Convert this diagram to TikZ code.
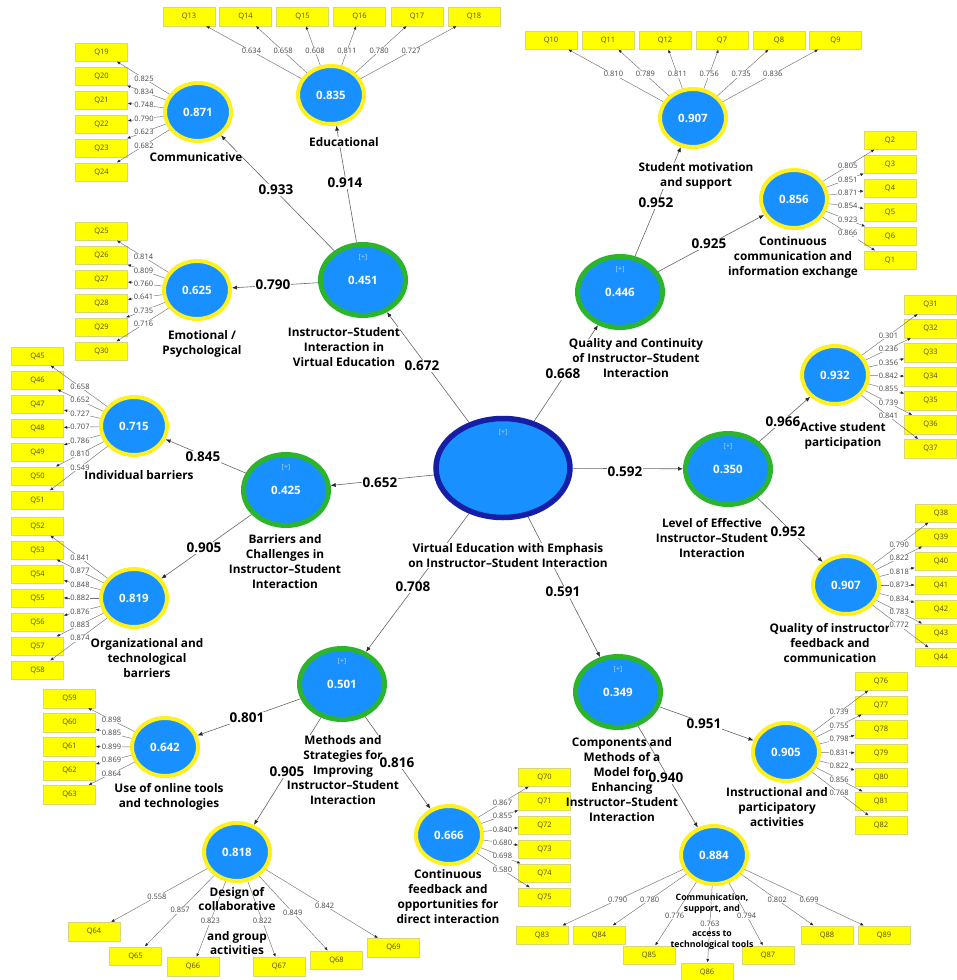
\documentclass[tikz,border=0pt]{standalone}
\usepackage{fontspec}
\setmainfont{Open Sans}
\usetikzlibrary{shapes.geometric,arrows.meta,calc}
\definecolor{cblue}{RGB}{24,144,255}
\definecolor{cylw}{RGB}{255,240,30}
\definecolor{cgrn}{RGB}{44,180,44}
\definecolor{cnavy}{RGB}{22,30,165}
\definecolor{qyel}{RGB}{255,255,0}
\definecolor{qbrd}{RGB}{215,215,120}
\definecolor{qtxt}{RGB}{85,75,25}
\definecolor{plusc}{RGB}{175,212,255}
\tikzset{
  fo/.style={ellipse, draw=cylw, line width=4pt, fill=cblue, minimum width=66pt, minimum height=58pt, inner sep=0pt, text=white, font=\fontsize{11.5}{13}\selectfont\bfseries},
  so/.style={ellipse, draw=cgrn, line width=5pt, fill=cblue, minimum width=85pt, minimum height=71pt, inner sep=0pt, text=white, font=\fontsize{11.5}{13}\selectfont\bfseries, label={[plusl,yshift=22pt]center:[+]}},
  ctr/.style={ellipse, draw=cnavy, line width=5.5pt, fill=cblue, minimum width=134pt, minimum height=99pt, inner sep=0pt, label={[plusl,yshift=35pt]center:[+]}},
  plusl/.style={text=plusc, font=\fontsize{7}{8}\selectfont, inner sep=0pt},
  qb/.style={draw=qbrd, line width=0.5pt, fill=qyel, minimum width=52pt, minimum height=18.5pt, inner sep=0pt, text=qtxt, font=\fontsize{7.5}{9}\selectfont},
  ld/.style={draw=black!55, line width=0.45pt, -{Latex[length=3.5pt,width=2.8pt,color=black!85]}},
  sp/.style={draw=black!60, line width=0.6pt, -{Latex[length=5pt,width=4pt,color=black!85]}},
  lbl/.style={fill=white, inner sep=0.5pt, text=black!72, font=\fontsize{7.5}{9}\selectfont},
  coef/.style={fill=white, inner sep=1pt, text=black, font=\fontsize{13.5}{15}\selectfont\bfseries},
  clab/.style={align=center, inner sep=0pt, fill=white, text=black, font=\fontsize{11.8}{15}\selectfont\bfseries},
  clabn/.style={clab, fill=none},
}
\begin{document}
\begin{tikzpicture}[x=1pt,y=-1pt]
\fill[white] (0,0) rectangle (956,980);
\useasboundingbox (0,0) rectangle (956,980);

% central and second-order constructs
\node[ctr] (ve) at (503,468) {};
\node[so] (isv) at (363,280) {0.451};
\node[so] (qc) at (620,292) {0.446};
\node[so] (bc) at (286,490) {0.425};
\node[so] (le) at (728,469) {0.350};
\node[so] (ms) at (342,684) {0.501};
\node[so] (cm) at (618,692) {0.349};

% first-order constructs
\node[fo] (edu) at (331,95) {0.835};
\node[fo] (com) at (198,112) {0.871};
\node[fo] (emo) at (197,290) {0.625};
\node[fo] (ind) at (134,426) {0.715};
\node[fo] (org) at (134,598) {0.819};
\node[fo] (onl) at (165,747) {0.642};
\node[fo] (des) at (237,852) {0.818};
\node[fo] (cfb) at (449,835) {0.666};
\node[fo] (cst) at (714,855) {0.884};
\node[fo] (ins) at (786,752) {0.905};
\node[fo] (qfc) at (846,585) {0.907};
\node[fo] (act) at (835,375) {0.932};
\node[fo] (cci) at (794,199) {0.856};
\node[fo] (smo) at (693,118) {0.907};

% indicator boxes
\foreach \n/\x/\y in {13/189/16.5,14/245.5/16.5,15/302.5/16.5,16/359.5/16.5,17/417/16.5,18/474/16.5,
  19/101.5/52,20/101.5/76,21/101.5/100,22/101.5/124,23/101.5/148,24/101.5/172,
  25/101.5/231,26/101.5/255,27/101.5/279,28/101.5/303,29/101.5/327,30/101.5/351,
  45/37.5/356,46/37.5/380,47/37.5/404,48/37.5/428,49/37.5/452,50/37.5/476,51/37.5/500,
  52/37.5/526,53/37.5/550,54/37.5/574,55/37.5/598,56/37.5/622,57/37.5/646,58/37.5/670,
  59/69.5/698.5,60/69.5/722.5,61/69.5/746.5,62/69.5/770.5,63/69.5/794.5,
  64/94/931.5,65/135.5/956,66/193/966.5,67/279/966.5,68/336.5/960,69/393.5/947.5,
  70/544.5/777,71/544.5/801,72/544.5/825,73/544.5/849,74/544.5/873,75/544.5/897,
  83/542/935,84/599/935,85/649/955,86/707/972,87/768/955,88/827/935,89/884/935,
  76/881/681,77/881/705,78/881/729,79/881/753,80/881/777,81/881/801,82/881/825,
  38/941/513,39/941/537,40/941/561,41/941/585,42/941/609,43/941/633,44/941/657,
  31/930.5/304.5,32/930.5/328.5,33/930.5/352.5,34/930.5/376.5,35/930.5/400.5,36/930.5/424.5,37/930.5/448.5,
  2/890/140,3/890/164,4/890/188,5/890/212,6/890/236,1/890/260,
  10/551/40,11/608/40,12/665/40,7/722/40,8/779/40,9/835.5/40}
  {\node[qb] (q\n) at (\x,\y) {Q\n};}

\def\loadlist{edu/13/0.634,edu/14/0.658,edu/15/0.608,edu/16/0.811,edu/17/0.780,edu/18/0.727,
  com/19/0.825,com/20/0.834,com/21/0.748,com/22/0.790,com/23/0.623,com/24/0.682,
  emo/25/0.814,emo/26/0.809,emo/27/0.760,emo/28/0.641,emo/29/0.735,emo/30/0.716,
  ind/45/0.658,ind/46/0.652,ind/47/0.727,ind/48/0.707,ind/49/0.786,ind/50/0.810,ind/51/0.549,
  org/52/0.841,org/53/0.877,org/54/0.848,org/55/0.882,org/56/0.876,org/57/0.883,org/58/0.874,
  onl/59/0.898,onl/60/0.885,onl/61/0.899,onl/62/0.869,onl/63/0.864,
  des/64/0.558,des/65/0.857,des/68/0.849,des/69/0.842,
  cfb/70/0.867,cfb/71/0.855,cfb/72/0.840,cfb/73/0.680,cfb/74/0.698,cfb/75/0.580,
  cst/83/0.790,cst/84/0.780,cst/88/0.802,cst/89/0.699,
  ins/76/0.739,ins/77/0.755,ins/78/0.798,ins/79/0.831,ins/80/0.822,ins/81/0.856,ins/82/0.768,
  qfc/38/0.790,qfc/39/0.822,qfc/40/0.818,qfc/41/0.873,qfc/42/0.834,qfc/43/0.783,qfc/44/0.772,
  act/31/0.301,act/32/0.236,act/33/0.356,act/34/0.842,act/35/0.855,act/36/0.739,act/37/0.841,
  cci/2/0.805,cci/3/0.851,cci/4/0.871,cci/5/0.854,cci/6/0.923,cci/1/0.866,
  smo/10/0.810,smo/11/0.789,smo/12/0.811,smo/7/0.756,smo/8/0.735,smo/9/0.836}
\def\loadlistb{des/66/0.823,des/67/0.822,cst/85/0.776,cst/87/0.794}
\def\loadlistc{cst/86/0.763}

\def\pathlist{ve/isv/422/366/0.672,ve/qc/563/374/0.668,ve/bc/380/483/0.652,ve/le/625/472/0.592,
  ve/ms/413/587/0.708,ve/cm/563/592/0.591,
  isv/com/276/190/0.933,isv/edu/345/183/0.914,isv/emo/273/285/0.790,
  qc/smo/656/203/0.952,qc/cci/709/244/0.925,
  bc/ind/203/457/0.845,bc/org/204/548/0.905,
  le/act/783/422/0.966,le/qfc/788/532/0.952,
  ms/onl/247/718/0.801,ms/des/287/772/0.905,ms/cfb/397/763/0.816,
  cm/ins/704/724/0.951,cm/cst/666/778/0.940}

% connectors
\foreach \c/\n/\v in \loadlist {\draw[ld] (\c) -- (q\n);}
\foreach \c/\n/\v in \loadlistb {\draw[ld] (\c) -- (q\n);}
\foreach \c/\n/\v in \loadlistc {\draw[ld] (\c) -- (q\n);}
\foreach \a/\b/\x/\y/\v in \pathlist {\draw[sp] (\a) -- (\b);}

% construct names
\node[clab] (tedu) at (344,142) {Educational};
\node[clab] (tcom) at (196,157) {Communicative};
\node[clab] (temo) at (202,343.5) {Emotional /\\Psychological};
\node[clab] (tisv) at (344,347) {Instructor–Student\\Interaction in\\Virtual Education};
\node[clab] (tsmo) at (696,176) {Student motivation\\and support};
\node[clab] (tcci) at (793,257.5) {Continuous\\communication and\\information exchange};
\node[clab] (tqc) at (636,358.5) {Quality and Continuity\\of Instructor–Student\\Interaction};
\node[clab] (tact) at (843,436) {Active student\\participation};
\node[clab] (tle) at (712,538.5) {Level of Effective\\Instructor–Student\\Interaction};
\node[clab] (tqfc) at (830,643) {Quality of instructor\\feedback and\\communication};
\node[clab] (tind) at (139,475) {Individual barriers};
\node[clab] (tbc) at (285,561.5) {Barriers and\\Challenges in\\Instructor–Student\\Interaction};
\node[clab] (tve) at (508,555.5) {Virtual Education with Emphasis\\on Instructor–Student Interaction};
\node[clab] (torg) at (147,658.5) {Organizational and\\technological\\barriers};
\node[clab] (tonl) at (169,797) {Use of online tools\\and technologies};
\node[clab] (tms) at (343,770) {Methods and\\Strategies for\\Improving\\Instructor–Student\\Interaction};
\node[clabn] (tcm) at (622,780) {Components and\\Methods of a\\Model for\\Enhancing\\Instructor–Student\\Interaction};
\node[clab] (tcfb) at (448,897) {Continuous\\feedback and\\opportunities for\\direct interaction};
\node[clab] (tins) at (777,807) {Instructional and\\participatory\\activities};
\node[clabn, font=\fontsize{11.8}{14}\selectfont\bfseries] (tdes) at (237,921.5) {Design of\\collaborative\\[16pt]and group\\activities};
\node[clabn, font=\fontsize{8.8}{10.5}\selectfont\bfseries] (tcst) at (712,921.5) {Communication,\\support, and\\[15pt]access to\\technological tools};

% loading and path labels
\foreach \c/\n/\v in \loadlist {\node[lbl] (l\n) at ($(\c)!0.56!(q\n)$) {\v};}
\foreach \c/\n/\v in \loadlistb {\node[lbl] (l\n) at ($(\c)!0.605!(q\n)$) {\v};}
\foreach \c/\n/\v in \loadlistc {\node[lbl] (l\n) at ($(\c)!0.585!(q\n)$) {\v};}
\foreach \a/\b/\x/\y/\v in \pathlist {\node[coef] (p\a\b) at (\x,\y) {\v};}
\end{tikzpicture}
\end{document}
